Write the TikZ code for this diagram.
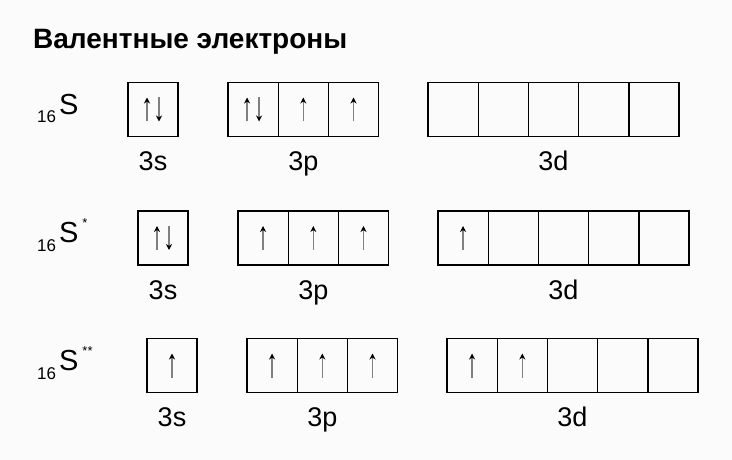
\documentclass[tikz,border=0pt]{standalone}
\usepackage{fontspec}
\setmainfont{Liberation Sans}
\usetikzlibrary{positioning,arrows.meta}
\definecolor{bg}{HTML}{FBFBFB}
\tikzstyle{orb}=[draw,line width=1.4pt,minimum width=50.2pt,minimum height=54pt,inner sep=0,outer sep=0]
\tikzstyle{lbl}=[anchor=base,inner sep=0,font=\fontsize{27}{30}\selectfont]
\tikzstyle{spin}=[line width=1.5pt,black!50,-{Stealth[color=black,length=6pt,width=6pt]}]
\newcommand{\spinup}[1]{\draw[spin] ([shift={(0,12)}]#1.center) -- ++(0,-24);}
\newcommand{\spinpair}[1]{%
  \draw[spin] ([shift={(-6,12)}]#1.center) -- ++(0,-24);
  \draw[spin] ([shift={(6,-12)}]#1.center) -- ++(0,24);}

\begin{document}
\begin{tikzpicture}[x=1pt,y=-1pt]
    \fill[bg] (0,0) rectangle (732,460);
    \useasboundingbox (0,0) rectangle (732,460);

    \node [anchor=base west,inner sep=0,font=\bfseries\fontsize{28}{32}\selectfont] (title) at (33,49) {Валентные электроны};

    % cells of the three rows
    \foreach \r/\dx/\y/\st in {1/0/109.5/{}, 2/10/238/*, 3/19/365.5/**} {
      \node [anchor=base west,inner sep=0,font=\fontsize{29}{30}\selectfont] (atom\r) at (37,\y+4.5) {%
        \raisebox{-9pt}{\fontsize{17}{17}\selectfont 16}\kern3pt S\kern4pt\raisebox{15pt}{\fontsize{13}{13}\selectfont\st}};
      \node [orb] (s\r) at (153+\dx,\y) {};
      \foreach \i in {1,2,3}
        \node [orb] (p\r\i) at (202.9+50.2*\i+\dx,\y) {};
      \foreach \i in {1,...,5}
        \node [orb] (d\r\i) at (402.9+50.2*\i+\dx,\y) {};
      \node [lbl] (ls\r) at ([yshift=-34pt]s\r.south) {3s};
      \node [lbl] (lp\r) at ([yshift=-34pt]p\r2.south) {3p};
      \node [lbl] (ld\r) at ([yshift=-34pt]d\r3.south) {3d};
    }

    % electrons
    \spinpair{s1}
    \spinpair{p11}
    \spinpair{s2}
    \foreach \c in {p12,p13,p21,p22,p23,d21,s3,p31,p32,p33,d31,d32} {
      \spinup{\c}
    }
\end{tikzpicture}
\end{document}
